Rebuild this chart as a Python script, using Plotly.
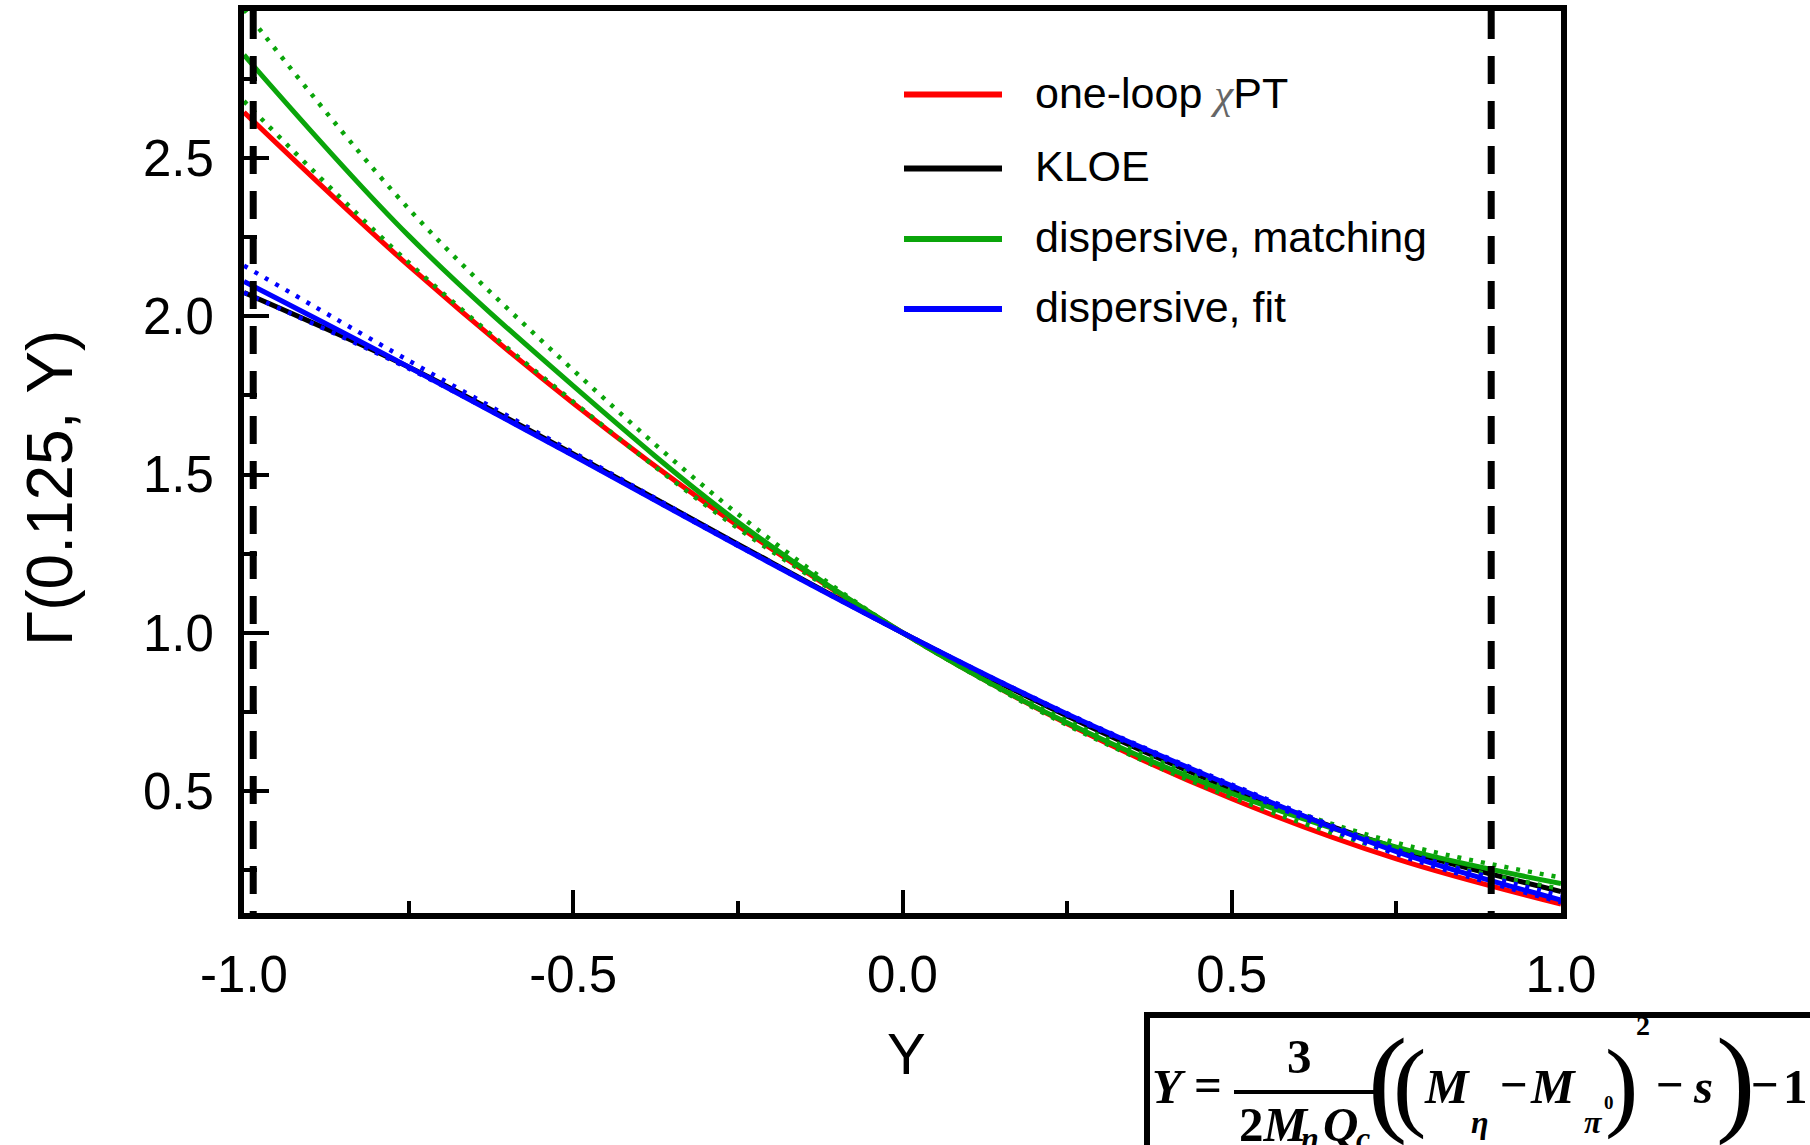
import plotly.graph_objects as go

# Dalitz variable Y and the normalised distribution Gamma(X=0.125, Y)
y_grid = [-1.0, -0.75, -0.5, -0.25, 0.0, 0.25, 0.5, 0.75, 1.0]

chpt_oneloop = [2.645, 2.160, 1.725, 1.338, 1.000, 0.712, 0.475, 0.285, 0.142]
kloe = [2.075, 1.840, 1.565, 1.280, 1.000, 0.737, 0.506, 0.320, 0.182]
disp_matching = [2.826, 2.255, 1.780, 1.350, 1.000, 0.715, 0.492, 0.322, 0.207]
disp_matching_hi = [2.970, 2.340, 1.830, 1.375, 1.000, 0.722, 0.505, 0.336, 0.226]
disp_matching_lo = [2.680, 2.170, 1.730, 1.330, 1.000, 0.708, 0.480, 0.305, 0.190]
disp_fit = [2.110, 1.840, 1.560, 1.275, 1.000, 0.743, 0.516, 0.308, 0.155]
disp_fit_hi = [2.160, 1.860, 1.570, 1.280, 1.000, 0.745, 0.520, 0.315, 0.168]
disp_fit_lo = [2.075, 1.835, 1.560, 1.275, 1.000, 0.740, 0.510, 0.300, 0.148]

# physical region boundaries in Y
boundary_lines = [-0.986, 0.894]

x_ticks = [-1.0, -0.5, 0.0, 0.5, 1.0]
x_ticklabels = ["-1.0", "-0.5", "0.0", "0.5", "1.0"]
y_ticks = [0.5, 1.0, 1.5, 2.0, 2.5]
y_ticklabels = ["0.5", "1.0", "1.5", "2.0", "2.5"]

legend_labels = [
    "one-loop <span style=\"font-family:'Liberation Serif';font-style:italic;color:#666666\">χ</span>PT",
    "KLOE",
    "dispersive, matching",
    "dispersive, fit",
]

RED = "#ff0000"
BLACK = "#000000"
GREEN = "#0aa50a"
BLUE = "#0000ff"
legend_colors = [RED, BLACK, GREEN, BLUE]

FIG_W, FIG_H = 1810, 1145
L, R, T, B = 244, 249, 11, 232
PW, PH = FIG_W - L - R, FIG_H - T - B


def fx(px):
    return (px - L) / PW


def fy(py):
    return (FIG_H - B - py) / PH


fig = go.Figure()

SOLID_W = 5
DOT_W = 4.5
DOT = "4px,8px"


def add_curve(vals, color, dotted=False):
    fig.add_trace(go.Scatter(
        x=y_grid, y=vals, mode="lines",
        line=dict(color=color, width=DOT_W if dotted else SOLID_W, shape="spline",
                  dash=DOT if dotted else "solid"),
        showlegend=False, hoverinfo="skip",
    ))


add_curve(chpt_oneloop, RED)
add_curve(kloe, BLACK)
add_curve(disp_matching_hi, GREEN, dotted=True)
add_curve(disp_matching_lo, GREEN, dotted=True)
add_curve(disp_matching, GREEN)
add_curve(disp_fit_hi, BLUE, dotted=True)
add_curve(disp_fit_lo, BLUE, dotted=True)
add_curve(disp_fit, BLUE)

shapes = []
for xb in boundary_lines:
    shapes.append(dict(type="line", xref="x", yref="paper", x0=xb, x1=xb,
                       y0=1, y1=0, layer="above",
                       line=dict(color="black", width=7, dash="28px,17px")))

annotations = []

# legend
legend_rows = [94.6, 168.5, 239, 309]
for lab, col, ry in zip(legend_labels, legend_colors, legend_rows):
    shapes.append(dict(type="line", xref="paper", yref="paper",
                       x0=fx(904), x1=fx(1002), y0=fy(ry), y1=fy(ry),
                       line=dict(color=col, width=6)))
    annotations.append(dict(xref="paper", yref="paper", x=fx(1033), y=fy(ry - 2),
                            xanchor="left", yanchor="middle", showarrow=False,
                            text=lab,
                            font=dict(family="Liberation Sans", size=43, color="black")))

# axis titles
annotations.append(dict(xref="paper", yref="paper", x=fx(906), y=fy(1053),
                        xanchor="center", yanchor="middle", showarrow=False,
                        text="Y", font=dict(family="Liberation Sans", size=58, color="black")))
annotations.append(dict(xref="paper", yref="paper", x=fx(50), y=fy(488),
                        xanchor="center", yanchor="middle", showarrow=False, textangle=-90,
                        text="Γ(0.125, Y)",
                        font=dict(family="Liberation Sans", size=64, color="black")))

# definition of Y in a framed box
shapes.append(dict(type="rect", xref="paper", yref="paper",
                   x0=fx(1147), x1=fx(1840), y0=fy(1015), y1=fy(1170),
                   line=dict(color="black", width=6), fillcolor="white", layer="above"))
shapes.append(dict(type="line", xref="paper", yref="paper",
                   x0=fx(1234), x1=fx(1377), y0=fy(1092), y1=fy(1092),
                   line=dict(color="black", width=4)))

SERIF = "Liberation Serif"


def ftext(txt, px, py, size=49, anchor="center"):
    annotations.append(dict(xref="paper", yref="paper", x=fx(px), y=fy(py),
                            xanchor=anchor, yanchor="middle", showarrow=False,
                            text=txt, font=dict(family=SERIF, size=size, color="black")))


ftext("<b><i>Y</i></b>", 1169, 1086)
ftext("<b>=</b>", 1208, 1084)
ftext("<b>3</b>", 1299, 1056)
ftext("<b>2<i>M</i></b>", 1237, 1124, anchor="left")
ftext("<b><i>η</i></b>", 1310, 1138, size=32)
ftext("<b><i>Q</i></b>", 1321, 1124, anchor="left")
ftext("<b><i>c</i></b>", 1363, 1138, size=32)
ftext("(", 1387, 1080, size=118)
ftext("(", 1409, 1084, size=100)
ftext("<b><i>M</i></b>", 1447, 1086)
ftext("<b><i>η</i></b>", 1480, 1122, size=32)
ftext("<b>−</b>", 1514, 1084)
ftext("<b><i>M</i></b>", 1553, 1086)
ftext("<b><i>π</i></b>", 1593, 1122, size=32)
ftext("<b>0</b>", 1609, 1102, size=19)
ftext(")", 1621, 1084, size=100)
ftext("<b>2</b>", 1643, 1025, size=28)
ftext("<b>−</b>", 1670, 1084)
ftext("<b><i>s</i></b>", 1703, 1086)
ftext(")", 1736, 1080, size=118)
ftext("<b>−</b>", 1765, 1084)
ftext("<b>1</b>", 1795, 1086)

tickfont = dict(family="Liberation Sans", size=51, color="black")

fig.update_layout(
    width=FIG_W, height=FIG_H,
    margin=dict(l=L, r=R, t=T, b=B, autoexpand=False),
    paper_bgcolor="white", plot_bgcolor="white",
    showlegend=False,
    shapes=shapes, annotations=annotations,
    xaxis=dict(range=[-1.0, 1.0], showgrid=False, zeroline=False,
               showline=True, mirror=True, linecolor="black", linewidth=6,
               ticks="inside", ticklen=23, tickwidth=4, tickcolor="black",
               tickvals=x_ticks, ticktext=x_ticklabels, tickfont=tickfont,
               ticklabelstandoff=12,
               minor=dict(dtick=0.25, tick0=0, ticks="inside", ticklen=12,
                          tickwidth=4, tickcolor="black")),
    yaxis=dict(range=[0.114, 2.965], showgrid=False, zeroline=False,
               showline=True, mirror=True, linecolor="black", linewidth=6,
               ticks="inside", ticklen=25, tickwidth=4, tickcolor="black",
               tickvals=y_ticks, ticktext=y_ticklabels, tickfont=tickfont,
               ticklabelstandoff=14,
               minor=dict(dtick=0.25, tick0=0, ticks="inside", ticklen=13,
                          tickwidth=4, tickcolor="black")),
)

fig.write_html("out.html")
